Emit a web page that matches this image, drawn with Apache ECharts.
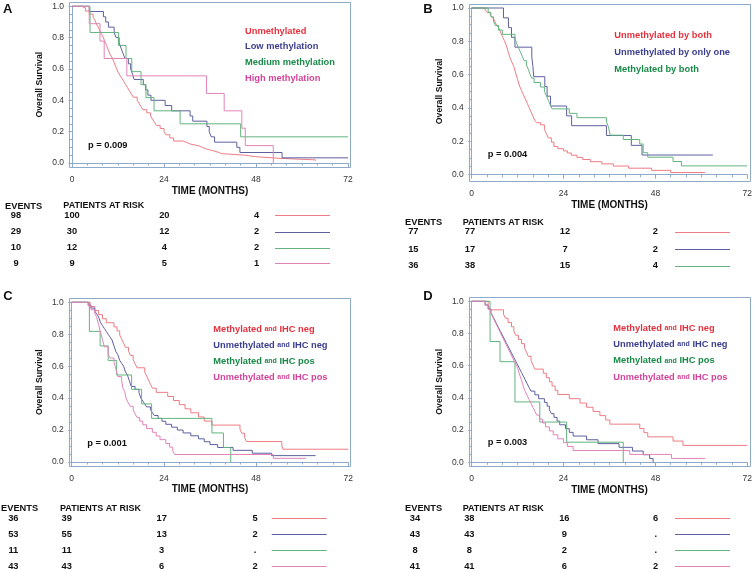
<!DOCTYPE html>
<html><head><meta charset="utf-8">
<script src="https://cdn.jsdelivr.net/npm/echarts@6/dist/echarts.min.js"></script>
<style>html,body{margin:0;padding:0;background:#fff}#c{width:755px;height:572px}</style>
</head><body><div id="c"></div>
<script>
// ================= DATA =================
const xTicks = [0, 24, 48, 72];
const yTicks = [0, 0.2, 0.4, 0.6, 0.8, 1.0];
const riskTimes = [0, 24, 48];

// ---- Panel A ----
const A_names = ['Unmethylated', 'Low methylation', 'Medium methylation', 'High methylation'];
const A_unmethylated = [[0,1],[2.5,0.99],[3.5,0.97],[4.5,0.95],[5.5,0.93],[6,0.91],[6.5,0.88],[7,0.86],[7.5,0.83],[8,0.81],[8.5,0.78],[9,0.75],[9.5,0.72],[10,0.69],[10.5,0.67],[11,0.64],[11.5,0.61],[12,0.58],[12.5,0.56],[13,0.54],[13.5,0.52],[14,0.5],[14.5,0.48],[15,0.46],[15.5,0.44],[16,0.42],[17,0.4],[17.5,0.38],[18,0.36],[18.5,0.34],[19.5,0.32],[20.5,0.3],[21,0.28],[21.5,0.26],[22,0.24],[23,0.22],[24,0.2],[24.5,0.18],[25.5,0.16],[26.5,0.14],[29,0.13],[30,0.12],[31,0.11],[33,0.1],[34,0.09],[35,0.08],[36.5,0.07],[38,0.06],[39,0.05],[45,0.04],[48,0.03],[54,0.02],[63.5,0.015]];
const A_low = [[0,1],[4.5,0.967],[8.2,0.933],[8.8,0.9],[9.5,0.867],[11,0.833],[11.5,0.8],[12.3,0.767],[12.8,0.733],[13.3,0.7],[13.8,0.667],[14.7,0.633],[15.3,0.6],[15.8,0.567],[16.2,0.533],[18.6,0.5],[19.2,0.467],[19.8,0.433],[20.6,0.4],[24.3,0.367],[26,0.333],[30.8,0.3],[31.5,0.267],[35.2,0.233],[35.8,0.2],[36.3,0.167],[37.2,0.133],[43,0.1],[43.8,0.067],[54.8,0.033],[72,0.033]];
const A_medium = [[0,1],[4.7,0.833],[12.1,0.75],[14.1,0.667],[15.6,0.583],[18,0.5],[19.3,0.417],[21.4,0.333],[28.2,0.25],[44,0.167],[72,0.167]];
const A_high = [[0,1],[4.5,0.889],[7.3,0.778],[8.4,0.667],[14.3,0.556],[35.1,0.444],[39.7,0.333],[44.3,0.222],[45.2,0.111],[52.5,0]];
const A_events = ['98', '29', '10', '9'];
const A_risk0 = ['100', '30', '12', '9'];
const A_risk24 = ['20', '12', '4', '5'];
const A_risk48 = ['4', '2', '2', '1'];
const A_p = 'p = 0.009';

// ---- Panel B ----
const B_names = ['Unmethylated by both', 'Unmethylated by only one', 'Methylated by both'];
const B_unmethBoth = [[0,1],[3.5,0.987],[4,0.974],[4.8,0.961],[5.2,0.948],[5.7,0.935],[6,0.922],[6.5,0.896],[7,0.883],[7.5,0.857],[8,0.831],[8.5,0.805],[9,0.779],[9.5,0.74],[10,0.701],[10.5,0.675],[11,0.649],[11.5,0.61],[12,0.571],[12.5,0.532],[13,0.506],[13.5,0.48],[14,0.455],[14.5,0.429],[15,0.403],[15.5,0.377],[16,0.351],[16.5,0.325],[17,0.312],[18,0.299],[19,0.273],[19.5,0.247],[20,0.221],[20.8,0.195],[21.5,0.169],[22.5,0.156],[24,0.143],[25,0.13],[26,0.117],[27.5,0.104],[29,0.091],[31,0.078],[34,0.065],[37,0.052],[41,0.039],[47,0.026],[52,0.013],[61,0.013]];
const B_unmethOne = [[0,1],[8.3,0.941],[9.6,0.882],[10.4,0.824],[11.3,0.765],[15.7,0.706],[16,0.647],[16.2,0.588],[19.1,0.529],[19.7,0.471],[20.6,0.412],[24.8,0.353],[26.1,0.294],[35.2,0.235],[41.7,0.176],[44.5,0.118],[63,0.118]];
const B_methBoth = [[0,1],[4.3,0.974],[5,0.947],[5.7,0.921],[6.2,0.895],[7,0.868],[8,0.842],[11.3,0.816],[11.7,0.789],[12.2,0.763],[12.7,0.737],[13.2,0.711],[13.7,0.684],[14.3,0.658],[14.8,0.632],[15.2,0.605],[15.7,0.579],[16.3,0.553],[18,0.526],[19,0.5],[19.5,0.474],[20,0.447],[20.5,0.421],[21,0.395],[25.5,0.368],[27.5,0.342],[35.2,0.316],[35.7,0.289],[36.2,0.237],[39.6,0.211],[43.9,0.184],[44.8,0.132],[46,0.105],[52.6,0.079],[54.8,0.053],[72,0.053]];
const B_events = ['77', '15', '36'];
const B_risk0 = ['77', '17', '38'];
const B_risk24 = ['12', '7', '15'];
const B_risk48 = ['2', '2', '4'];
const B_p = 'p = 0.004';

// ---- Panel C ----
const C_names = ['Methylated|and|IHC neg', 'Unmethylated|and|IHC neg', 'Methylated|and|IHC pos', 'Unmethylated|and|IHC pos'];
const C_methNeg = [[0,1],[4.8,0.974],[6,0.949],[7,0.923],[8,0.897],[9,0.872],[11,0.846],[11.8,0.821],[12.5,0.795],[13,0.769],[13.5,0.744],[14,0.718],[14.8,0.692],[15.3,0.667],[16,0.641],[16.5,0.615],[17,0.59],[19,0.564],[19.5,0.538],[20,0.513],[20.5,0.487],[21,0.462],[22,0.436],[25,0.41],[26.5,0.385],[28,0.359],[29.5,0.333],[31,0.308],[33,0.282],[34.5,0.256],[36.5,0.231],[43.8,0.205],[44.3,0.18],[45,0.154],[45.5,0.128],[54.7,0.1],[55,0.08],[72,0.08]];
const C_unmethNeg = [[0,1],[4.3,0.982],[5,0.964],[6,0.945],[6.5,0.927],[7,0.909],[7.5,0.873],[8,0.855],[8.5,0.836],[9,0.818],[9.5,0.8],[10,0.782],[10.5,0.764],[11,0.727],[11.5,0.691],[12,0.673],[12.5,0.636],[13,0.618],[13.5,0.6],[14,0.564],[14.5,0.545],[15,0.509],[15.5,0.473],[16.5,0.455],[17.5,0.436],[18,0.4],[18.5,0.382],[19,0.364],[19.5,0.345],[20.5,0.327],[21,0.309],[21.5,0.291],[22.5,0.273],[23.5,0.255],[24.5,0.236],[26,0.218],[27.5,0.2],[29,0.182],[31,0.164],[33,0.145],[34.5,0.127],[36,0.109],[38,0.091],[42,0.073],[47,0.055],[52,0.04],[63.5,0.04]];
const C_methPos = [[0,1],[4.6,0.818],[7.4,0.727],[9.5,0.636],[11.7,0.545],[15.6,0.455],[18.2,0.364],[20.8,0.273],[36.5,0.182],[39.5,0.091],[41.4,0]];
const C_unmethPos = [[0,1],[4.3,0.977],[5,0.953],[6,0.93],[6.5,0.907],[7,0.86],[7.5,0.814],[8,0.767],[8.5,0.721],[9.5,0.674],[10,0.651],[11,0.628],[11.5,0.581],[12,0.535],[13,0.512],[13.3,0.465],[13.8,0.442],[14.2,0.395],[14.7,0.372],[15.2,0.349],[16,0.326],[16.5,0.302],[17,0.279],[17.7,0.256],[18.5,0.233],[19.5,0.209],[21,0.186],[22,0.163],[23,0.14],[24.5,0.116],[25.5,0.093],[26.3,0.07],[26.8,0.047],[52.5,0.023],[61,0.023]];
const C_events = ['36', '53', '11', '43'];
const C_risk0 = ['39', '55', '11', '43'];
const C_risk24 = ['17', '13', '3', '6'];
const C_risk48 = ['5', '2', '.', '2'];
const C_p = 'p = 0.001';

// ---- Panel D ----
const D_names = ['Methylated|and|IHC neg', 'Unmethylated|and|IHC neg', 'Methylated|and|IHC pos', 'Unmethylated|and|IHC pos'];
const D_methNeg = [[0,1],[4.3,0.974],[4.8,0.947],[8.3,0.921],[8.8,0.895],[9.5,0.868],[10.4,0.842],[11,0.816],[11.5,0.789],[12.2,0.763],[13,0.737],[13.8,0.711],[14.3,0.684],[14.8,0.658],[15.5,0.632],[16,0.605],[16.5,0.579],[18.7,0.553],[19.5,0.526],[20.3,0.5],[21,0.474],[21.8,0.447],[22.5,0.421],[25.5,0.395],[28.3,0.368],[30,0.342],[31.7,0.316],[33.5,0.29],[35,0.263],[36.1,0.237],[43.9,0.21],[45,0.184],[46,0.158],[52.6,0.132],[55.2,0.105],[72,0.105]];
const D_unmethNeg = [[0,1],[3.5,0.977],[4.3,0.953],[5,0.93],[5.5,0.907],[6,0.884],[6.5,0.86],[7,0.837],[7.5,0.814],[8,0.791],[8.5,0.767],[9,0.744],[9.5,0.721],[10,0.698],[10.5,0.674],[11,0.651],[11.5,0.628],[12,0.605],[12.5,0.581],[13,0.558],[13.5,0.535],[14,0.512],[14.5,0.488],[15,0.465],[15.5,0.442],[16.5,0.419],[17.5,0.395],[19,0.372],[19.7,0.349],[20.3,0.326],[20.8,0.302],[21.5,0.279],[22.3,0.256],[23,0.233],[24.5,0.209],[25.5,0.186],[26.5,0.163],[30,0.14],[33,0.116],[38.5,0.093],[42,0.07],[44.8,0.047],[46.5,0.023],[47.4,0]];
const D_methPos = [[0,1],[4.8,0.75],[7.4,0.625],[11.3,0.375],[17.8,0.25],[24.8,0.125],[39.6,0]];
const D_unmethPos = [[0,1],[3.5,0.976],[4.3,0.951],[5,0.927],[5.5,0.902],[6,0.878],[6.5,0.854],[7,0.829],[7.5,0.805],[8,0.78],[8.5,0.756],[9,0.732],[9.5,0.707],[10,0.683],[10.5,0.659],[11,0.634],[11.5,0.61],[12,0.585],[12.3,0.561],[12.6,0.537],[13,0.512],[13.3,0.488],[13.6,0.463],[14,0.439],[14.5,0.415],[15,0.39],[15.5,0.366],[16,0.341],[16.5,0.317],[17,0.293],[17.7,0.268],[18.5,0.244],[19.3,0.22],[20.3,0.195],[21.3,0.171],[22.5,0.146],[24,0.122],[25,0.098],[26.5,0.073],[41.3,0.049],[52.2,0.024],[61,0.024]];
const D_events = ['34', '43', '8', '41'];
const D_risk0 = ['38', '43', '8', '41'];
const D_risk24 = ['16', '9', '2', '6'];
const D_risk48 = ['6', '.', '.', '2'];
const D_p = 'p = 0.003';

// ================= STYLE / LAYOUT =================
const FONT = '"Liberation Sans", Arial, sans-serif';
const BOX = '#8eaacb';
const TXT = {red:'#e3323e', blue:'#3b3e8f', green:'#198a48', pink:'#d2449a'};
const CURVE = {red:'#ee7c84', blue:'#5e609f', green:'#63b47f', pink:'#e283b8'};

const panels = [
  { letter:'A', curves:[A_unmethylated, A_low, A_medium, A_high], names:A_names, colors:['red','blue','green','pink'],
    events:A_events, r0:A_risk0, r24:A_risk24, r48:A_risk48, p:A_p,
    g:{left:72, top:6.3, w:276, h:156.7, xOff:4}, letterPos:[3,9.5], leg:{x:245, y:[31,46.7,62.7,78.7]}, pPos:[88,145],
    tab:{head:206, rows:[215.3,231.7,247.7,263.3], ev:16, evHead:5, parHead:63.3, cols:[72,164.3,256.7], key:[275,330]} },
  { letter:'B', curves:[B_unmethBoth, B_unmethOne, B_methBoth], names:B_names, colors:['red','blue','green'],
    events:B_events, r0:B_risk0, r24:B_risk24, r48:B_risk48, p:B_p,
    g:{left:471.7, top:8, w:276, h:166.7, xOff:6.5}, letterPos:[423.3,9], leg:{x:614.3, y:[35,52.7,69.7]}, pPos:[487.7,154.3],
    tab:{head:222.3, rows:[231.7,249,265.7], ev:413.3, evHead:405, parHead:462.7, cols:[470,565,655.3], key:[675,730]} },
  { letter:'C', curves:[C_methNeg, C_unmethNeg, C_methPos, C_unmethPos], names:C_names, colors:['red','blue','green','pink'],
    events:C_events, r0:C_risk0, r24:C_risk24, r48:C_risk48, p:C_p,
    g:{left:71.7, top:302.3, w:276.6, h:159.7, xOff:3.7}, letterPos:[3.3,296.3], leg:{x:213.3, y:[329,345,361.3,377.3]}, pPos:[87.3,443.3],
    tab:{head:508.3, rows:[518.3,534,550,566], ev:13.3, evHead:1, parHead:60, cols:[66.7,161.7,255], key:[271.7,326.7]} },
  { letter:'D', curves:[D_methNeg, D_unmethNeg, D_methPos, D_unmethPos], names:D_names, colors:['red','blue','green','pink'],
    events:D_events, r0:D_risk0, r24:D_risk24, r48:D_risk48, p:D_p,
    g:{left:471.7, top:301.3, w:276, h:161, xOff:3.5}, letterPos:[423.3,296.3], leg:{x:613.3, y:[328.3,344.3,360.7,377]}, pPos:[487.7,442.3],
    tab:{head:508.3, rows:[518.3,534,550,566], ev:415, evHead:405, parHead:462.7, cols:[469.3,564.3,655.7], key:[675,730]} }
];

// ================= BUILD =================
const grid = [], xAxis = [], yAxis = [], series = [], graphic = [];
function txt(x, y, text, opts) {
  opts = opts || {};
  graphic.push({ type:'text', x:x, y:y, silent:true, style:{
    text:text, fill:opts.fill || '#111',
    font:(opts.weight || 'bold') + ' ' + (opts.size || 9.3) + 'px ' + FONT,
    textAlign:opts.align || 'left', align:opts.align || 'left',
    textVerticalAlign:'middle', verticalAlign:'middle', rich:opts.rich } });
}
panels.forEach((P, i) => {
  const g = P.g;
  grid.push({ left:g.left, top:g.top, width:g.w, height:g.h, containLabel:false });
  xAxis.push({ gridIndex:i, type:'value', min:xTicks[0], max:xTicks[xTicks.length-1], interval:xTicks[1]-xTicks[0],
    offset:g.xOff, axisLine:{show:true, lineStyle:{color:BOX, width:1}},
    axisTick:{show:true, length:4, lineStyle:{color:BOX}},
    minorTick:{show:true, splitNumber:6, length:2.5, lineStyle:{color:BOX}},
    splitLine:{show:false},
    axisLabel:{fontSize:8.5, color:'#333', fontFamily:FONT, margin:8},
    name:'TIME (MONTHS)', nameLocation:'middle', nameGap:19,
    nameTextStyle:{fontWeight:'bold', fontSize:10, color:'#111', fontFamily:FONT} });
  yAxis.push({ gridIndex:i, type:'value', min:yTicks[0], max:yTicks[yTicks.length-1], interval:yTicks[1]-yTicks[0],
    offset:3, axisLine:{show:true, lineStyle:{color:BOX, width:1}},
    axisTick:{show:true, length:3.5, lineStyle:{color:BOX}},
    minorTick:{show:true, splitNumber:4, length:2, lineStyle:{color:BOX}},
    splitLine:{show:false},
    axisLabel:{fontSize:8.5, color:'#333', fontFamily:FONT, margin:5, formatter:v => v.toFixed(1)},
    name:'Overall Survival', nameLocation:'middle', nameGap:25,
    nameTextStyle:{fontWeight:'bold', fontSize:8.7, color:'#111', fontFamily:FONT} });
  P.curves.forEach((d, k) => {
    series.push({ type:'line', name:P.letter + k, xAxisIndex:i, yAxisIndex:i, data:d, step:'end',
      showSymbol:false, symbol:'none', clip:false, animation:false,
      lineStyle:{color:CURVE[P.colors[k]], width:1}, itemStyle:{color:CURVE[P.colors[k]]}, z:3 });
  });
  // box
  const bx = Math.round(g.left - 3) + 0.5, by = Math.round(g.top - 4) + 0.5;
  const bx2 = Math.round(g.left + g.w + 2) + 0.5, by2 = Math.round(g.top + g.h + g.xOff) + 0.5;
  graphic.push({ type:'rect', silent:true, z:1, shape:{x:bx, y:by, width:bx2-bx, height:by2-by},
    style:{fill:'none', stroke:BOX, lineWidth:1} });
  // letter
  txt(P.letterPos[0], P.letterPos[1], P.letter, {size:13});
  // legend text
  P.names.forEach((n, k) => {
    const c = TXT[P.colors[k]];
    const parts = n.split('|');
    if (parts.length === 3) {
      txt(P.leg.x, P.leg.y[k], '{a|' + parts[0] + ' }{s|' + parts[1] + '}{a| ' + parts[2] + '}', {fill:c,
        rich:{a:{fontSize:9.3, fontWeight:'bold', fontFamily:FONT, fill:c},
              s:{fontSize:7, fontWeight:'bold', fontFamily:FONT, fill:c}}});
    } else {
      txt(P.leg.x, P.leg.y[k], n, {fill:c});
    }
  });
  // p-value
  txt(P.pPos[0], P.pPos[1], P.p, {});
  // risk table
  const T = P.tab;
  txt(T.evHead, T.head, 'EVENTS', {});
  txt(T.parHead, T.head, 'PATIENTS AT RISK', {size:9});
  P.events.forEach((e, k) => {
    const y = T.rows[k];
    txt(T.ev, y, e, {align:'center'});
    [P.r0[k], P.r24[k], P.r48[k]].forEach((v, j) => txt(T.cols[j], y, v, {align:'center'}));
    const ly = Math.round(y) + 0.5;
    graphic.push({ type:'line', silent:true, shape:{x1:T.key[0], y1:ly, x2:T.key[1], y2:ly},
      style:{stroke:CURVE[P.colors[k]], lineWidth:1} });
  });
});

const chart = echarts.init(document.getElementById('c'), null, {renderer:'canvas'});
chart.setOption({ backgroundColor:'#ffffff', animation:false, grid, xAxis, yAxis, series, graphic });
</script></body></html>
